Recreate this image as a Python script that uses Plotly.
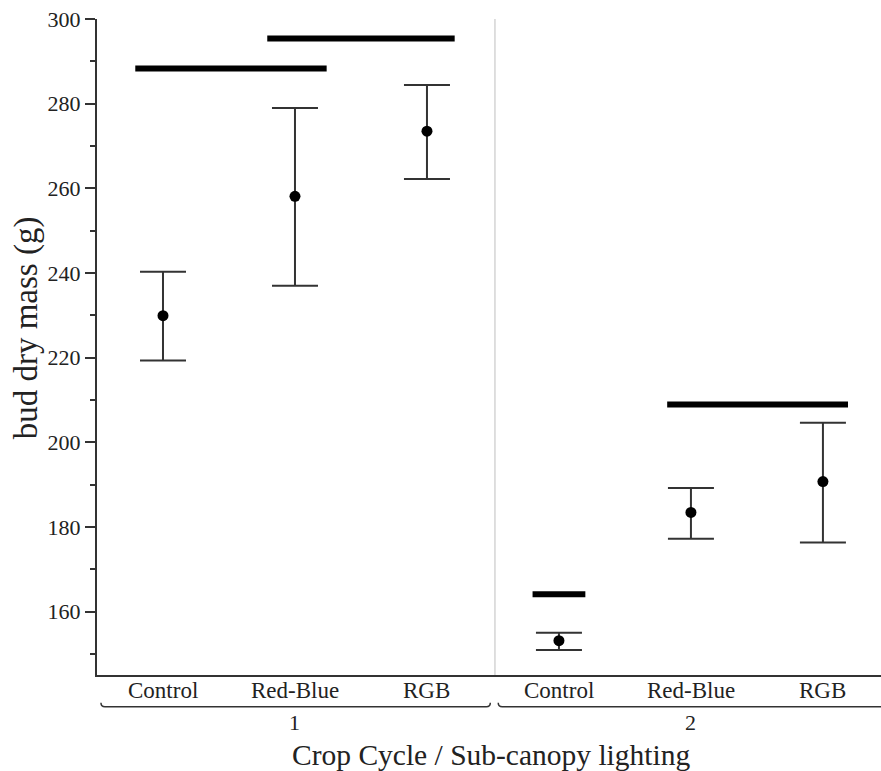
import plotly.graph_objects as go

# ---- data ----
x_pos = [0, 1, 2, 3, 4, 5]
tick_labels = ["Control", "Red-Blue", "RGB", "Control", "Red-Blue", "RGB"]
cycles = ["1", "2"]
cycle_center = [1, 4]
means = [229.9, 258.1, 273.5, 153.1, 183.4, 190.7]
upper = [240.3, 279.0, 284.4, 155.0, 189.2, 204.6]
lower = [219.3, 237.0, 262.2, 150.9, 177.2, 176.3]
# significance bars (x start, x end, y level)
sig_x0 = [-0.21, 0.79, 2.80, 3.82]
sig_x1 = [1.24, 2.21, 3.20, 5.19]
sig_y = [288.3, 295.4, 164.1, 208.9]
# group spans under tick labels
grp_x0 = [-0.47, 2.54]
grp_x1 = [2.48, 5.70]
separator_x = 2.515

FONT = "Liberation Serif, Times New Roman, serif"
INK = "#222222"

err_plus = [u - m for u, m in zip(upper, means)]
err_minus = [m - l for m, l in zip(means, lower)]

fig = go.Figure()

# separator between cycles
fig.add_shape(type="line", xref="x", yref="paper", x0=separator_x, x1=separator_x,
              y0=0, y1=1, line=dict(color="#d4d4d4", width=1.5), layer="below")

# significance bars
for a, b, y in zip(sig_x0, sig_x1, sig_y):
    fig.add_trace(go.Scatter(x=[a, b], y=[y, y], mode="lines",
                             line=dict(color="#000000", width=6),
                             hoverinfo="skip", showlegend=False))

fig.add_trace(go.Scatter(
    x=x_pos, y=means, mode="markers",
    marker=dict(color="#000000", size=11),
    error_y=dict(type="data", symmetric=False, array=err_plus, arrayminus=err_minus,
                 color="#333333", thickness=2, width=23),
    showlegend=False))

# category labels (placed just under the axis line)
for lab, xp in zip(tick_labels, x_pos):
    fig.add_annotation(x=xp, xref="x", y=-0.0229, yref="paper", text=lab,
                       showarrow=False, xanchor="center", yanchor="middle",
                       font=dict(family=FONT, size=23, color=INK))

# group brackets below tick labels
yb = -0.0483
dy = 0.006
dx = 0.03
for a, b in zip(grp_x0, grp_x1):
    path = (f"M {a},{yb + dy} Q {a},{yb} {a + dx},{yb} "
            f"L {b - dx},{yb} Q {b},{yb} {b},{yb + dy}")
    fig.add_shape(type="path", xref="x", yref="paper", path=path,
                  line=dict(color="#333333", width=1.5))

for lab, c in zip(cycles, cycle_center):
    fig.add_annotation(x=c, xref="x", y=-0.0727, yref="paper", text=lab,
                       showarrow=False, xanchor="center", yanchor="middle",
                       font=dict(family=FONT, size=22, color=INK))

fig.add_annotation(x=0.5024, xref="paper", y=-0.122, yref="paper",
                   text="Crop Cycle / Sub-canopy lighting", showarrow=False,
                   xanchor="center", yanchor="middle",
                   font=dict(family=FONT, size=29.5, color=INK))
fig.add_annotation(x=-0.0906, xref="paper", y=0.530, yref="paper",
                   text="bud dry mass (g)", showarrow=False, textangle=-90,
                   xanchor="center", yanchor="middle",
                   font=dict(family=FONT, size=33, color=INK))

fig.update_layout(
    width=881, height=771,
    margin=dict(l=97, r=0, t=19, b=96),
    paper_bgcolor="white", plot_bgcolor="white",
    font=dict(family=FONT, size=22, color=INK),
    xaxis=dict(range=[-0.5, 5.44], tickvals=x_pos, showticklabels=False,
               showgrid=False, zeroline=False, showline=True, linecolor="#333333",
               linewidth=2, ticks="", ticklen=0),
    yaxis=dict(range=[145, 300], tickvals=[160, 180, 200, 220, 240, 260, 280, 300],
               showgrid=False, zeroline=False, showline=True, linecolor="#333333",
               linewidth=2, ticks="outside", ticklen=10, tickwidth=1.5,
               tickcolor="#333333",
               minor=dict(tickvals=[150, 170, 190, 210, 230, 250, 270, 290],
                          ticks="outside", ticklen=5, tickwidth=1.5,
                          tickcolor="#333333", showgrid=False),
               tickfont=dict(family=FONT, size=22, color=INK)),
)

fig.write_html("out.html", config={"displayModeBar": False},
               post_script="document.body.style.margin='0';document.body.style.padding='0';")
